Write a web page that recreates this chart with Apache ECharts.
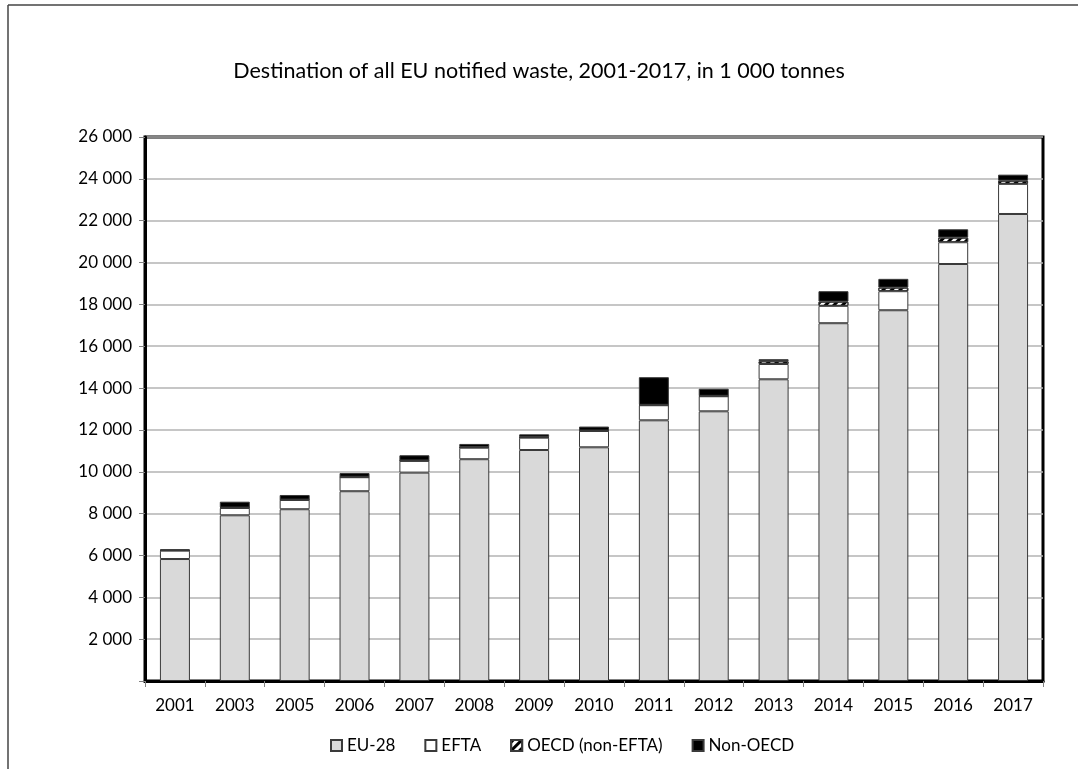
<!DOCTYPE html>
<html>
<head>
<meta charset="utf-8">
<script src="https://cdn.jsdelivr.net/npm/echarts@6/dist/echarts.min.js"></script>
<style>
html,body{margin:0;padding:0;background:#fff;}
#chart{width:1078px;height:769px;}
</style>
</head>
<body>
<div id="chart"></div>
<script>
const years = ['2001','2003','2005','2006','2007','2008','2009','2010','2011','2012','2013','2014','2015','2016','2017'];
const eu28 = [5830, 7920, 8210, 9070, 9960, 10600, 11040, 11170, 12460, 12890, 14420, 17100, 17720, 19930, 22320];
const efta = [400, 350, 440, 670, 560, 550, 590, 780, 720, 720, 730, 830, 910, 1040, 1440];
const oecdNonEfta = [20, 20, 20, 20, 20, 20, 20, 20, 20, 20, 130, 200, 170, 220, 150];
const nonOecd = [50, 280, 220, 180, 250, 160, 140, 190, 1320, 340, 100, 500, 420, 400, 290];
const seriesNames = ['EU-28', 'EFTA', 'OECD (non-EFTA)', 'Non-OECD'];
const titleText = 'Destination of all EU notified waste, 2001-2017, in 1 000 tonnes';

const FONT = 'Lato';
const chart = echarts.init(document.getElementById('chart'), null, {renderer: 'canvas'});

function fmt(v) {
  if (v === 0) return '';
  return String(v).replace(/\B(?=(\d{3})+(?!\d))/g, ' ');
}

const barBase = {type: 'bar', stack: 'total', barWidth: 30};

chart.setOption({
  backgroundColor: '#fff',
  animation: false,
  title: {
    text: titleText,
    left: 'center',
    top: 55,
    textStyle: {fontFamily: FONT, fontSize: 21.5, fontWeight: 'normal', color: '#000'}
  },
  legend: {
    bottom: 10,
    left: 325,
    icon: 'rect',
    itemWidth: 11,
    itemHeight: 11,
    itemGap: 29,
    textStyle: {fontFamily: FONT, fontSize: 17, color: '#000'},
    data: seriesNames
  },
  grid: {
    left: 145, right: 35, top: 137, bottom: 88,
    show: true, borderColor: '#000', borderWidth: 3
  },
  xAxis: {
    type: 'category',
    data: years,
    axisLine: {lineStyle: {color: '#000', width: 3}},
    axisTick: {show: true, length: 6, lineStyle: {color: '#808080', width: 1}},
    axisLabel: {fontFamily: FONT, fontSize: 17, color: '#000', margin: 16}
  },
  yAxis: {
    type: 'value',
    min: 0, max: 26000, interval: 2000,
    axisLine: {show: true, lineStyle: {color: '#000', width: 3}},
    axisTick: {show: true, length: 6, lineStyle: {color: '#808080', width: 1}},
    axisLabel: {fontFamily: FONT, fontSize: 17, color: '#000', margin: 13, formatter: fmt},
    splitLine: {show: true, lineStyle: {color: '#b3b3b3', width: 1.5}}
  },
  series: [
    Object.assign({}, barBase, {
      name: seriesNames[0], data: eu28,
      itemStyle: {color: '#d9d9d9', borderColor: '#3a3a3a', borderWidth: 1}
    }),
    Object.assign({}, barBase, {
      name: seriesNames[1], data: efta,
      itemStyle: {color: '#ffffff', borderColor: '#3a3a3a', borderWidth: 1}
    }),
    Object.assign({}, barBase, {
      name: seriesNames[2], data: oecdNonEfta,
      itemStyle: {
        color: '#ffffff', borderColor: '#3a3a3a', borderWidth: 1,
        decal: {symbol: 'rect', color: '#000', dashArrayX: [1, 0], dashArrayY: [3, 3], rotation: -Math.PI / 4}
      }
    }),
    Object.assign({}, barBase, {
      name: seriesNames[3], data: nonOecd,
      itemStyle: {color: '#000000', borderColor: '#3a3a3a', borderWidth: 1}
    })
  ],
  graphic: [
    {type: 'line', shape: {x1: 8, y1: 5, x2: 8, y2: 769}, style: {stroke: '#444', lineWidth: 1.5}},
    {type: 'line', shape: {x1: 8, y1: 5, x2: 1078, y2: 5}, style: {stroke: '#444', lineWidth: 1.5}}
  ]
});
</script>
</body>
</html>
